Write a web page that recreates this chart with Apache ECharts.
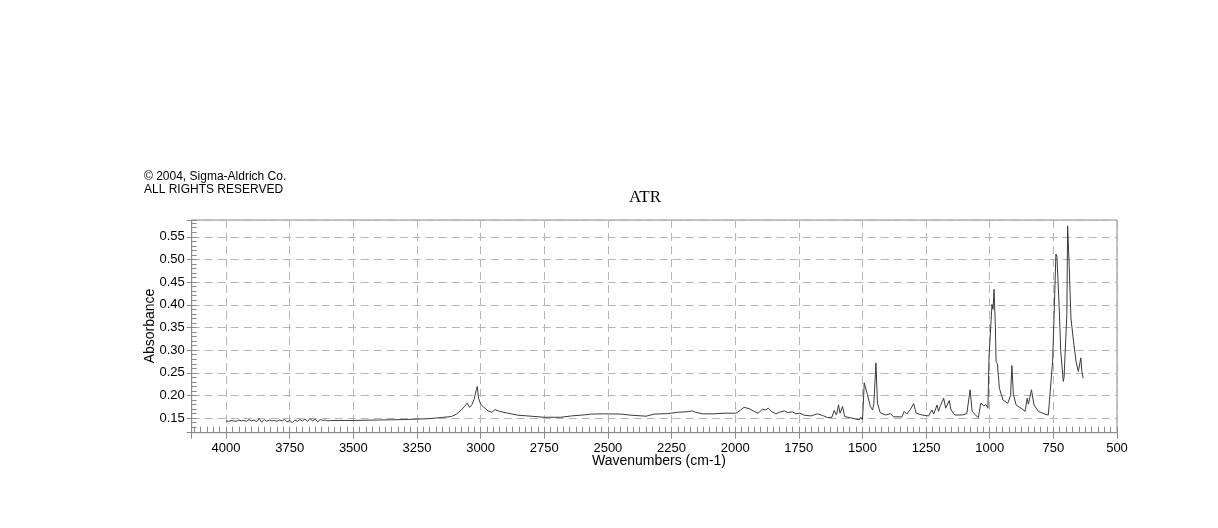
<!DOCTYPE html>
<html>
<head>
<meta charset="utf-8">
<script src="https://cdn.jsdelivr.net/npm/echarts@6/dist/echarts.min.js"></script>
<style>
  html, body { margin: 0; padding: 0; background: #fff; }
  #chart { width: 1218px; height: 528px; }
</style>
</head>
<body>
<div id="chart"></div>
<script>
// spectrum, wavenumber (cm-1) descending
const wavenumbers = [
  4000, 3990, 3980, 3970, 3960, 3950, 3940, 3930, 3920, 3910,
  3900, 3890, 3880, 3870, 3860, 3850, 3840, 3830, 3820, 3810,
  3800, 3790, 3780, 3770, 3760, 3750, 3740, 3730, 3720, 3710,
  3700, 3690, 3680, 3670, 3660, 3650, 3640, 3630, 3620, 3610,
  3600, 3590, 3560, 3500, 3400, 3300, 3250, 3200, 3154, 3115,
  3095, 3076, 3063, 3053, 3043, 3034, 3026, 3021, 3017, 3013,
  3008, 3000, 2991, 2971, 2956, 2943, 2926, 2893, 2854, 2802,
  2750, 2685, 2643, 2591, 2565, 2513, 2448, 2409, 2350, 2318,
  2266, 2227, 2194, 2168, 2155, 2129, 2083, 2044, 2005, 1997,
  1978, 1965, 1945, 1925, 1910, 1893, 1882, 1870, 1857, 1840,
  1827, 1807, 1794, 1775, 1762, 1746, 1729, 1703, 1677, 1657,
  1637, 1620, 1611, 1602, 1594, 1588, 1578, 1570, 1552, 1532,
  1513, 1506, 1500, 1497, 1493, 1482, 1469, 1460, 1455, 1447,
  1441, 1430, 1410, 1390, 1378, 1345, 1336, 1326, 1312, 1299,
  1289, 1266, 1240, 1227, 1220, 1207, 1201, 1195, 1181, 1173,
  1159, 1152, 1137, 1109, 1090, 1077, 1069, 1059, 1045, 1035,
  1023, 1015, 1007, 1003, 991, 987, 983, 978, 975, 970,
  962, 948, 929, 918, 913, 907, 896, 877, 861, 853,
  848, 836, 831, 826, 809, 783, 770, 765, 753, 747,
  740, 736, 727, 721, 711, 708, 697, 694, 688, 681,
  671, 661, 652, 642, 638, 633
];
const absorbance = [
  0.144, 0.143, 0.145, 0.144, 0.143, 0.146, 0.144, 0.145, 0.143, 0.147,
  0.144, 0.146, 0.142, 0.149, 0.141, 0.147, 0.143, 0.146, 0.144, 0.145,
  0.143, 0.146, 0.144, 0.147, 0.142, 0.145, 0.140, 0.146, 0.143, 0.147,
  0.144, 0.148, 0.143, 0.149, 0.144, 0.148, 0.142, 0.147, 0.145, 0.146,
  0.144, 0.145, 0.145, 0.145, 0.146, 0.147, 0.148, 0.149, 0.1515, 0.1537,
  0.159, 0.168, 0.176, 0.183, 0.174, 0.180, 0.1906, 0.194, 0.2127, 0.220,
  0.194, 0.181, 0.176, 0.166, 0.163, 0.169, 0.165, 0.161, 0.1566, 0.1544,
  0.152, 0.152, 0.155, 0.1574, 0.159, 0.1596, 0.159, 0.1566, 0.1544, 0.159,
  0.160, 0.163, 0.164, 0.166, 0.163, 0.1596, 0.1596, 0.161, 0.161, 0.161,
  0.168, 0.174, 0.171, 0.1647, 0.161, 0.170, 0.168, 0.172, 0.1647, 0.1596,
  0.163, 0.166, 0.1625, 0.164, 0.1596, 0.161, 0.1566, 0.155, 0.1596, 0.156,
  0.1515, 0.152, 0.167, 0.157, 0.1795, 0.161, 0.1758, 0.1537, 0.1515, 0.149,
  0.1463, 0.152, 0.1463, 0.176, 0.228, 0.205, 0.176, 0.168, 0.183, 0.272,
  0.183, 0.162, 0.157, 0.160, 0.153, 0.153, 0.165, 0.159, 0.169, 0.182,
  0.161, 0.157, 0.155, 0.168, 0.159, 0.179, 0.165, 0.176, 0.194, 0.172,
  0.189, 0.168, 0.157, 0.157, 0.160, 0.2126, 0.165, 0.159, 0.151, 0.183,
  0.177, 0.180, 0.172, 0.283, 0.401, 0.390, 0.434, 0.356, 0.275, 0.270,
  0.216, 0.190, 0.183, 0.200, 0.266, 0.202, 0.179, 0.172, 0.165, 0.194,
  0.181, 0.2126, 0.215, 0.179, 0.165, 0.159, 0.157, 0.190, 0.275, 0.379,
  0.512, 0.507, 0.393, 0.297, 0.231, 0.240, 0.379, 0.574, 0.489, 0.371,
  0.320, 0.275, 0.253, 0.283, 0.253, 0.238
];

const xMin = 500, xMax = 4135;
const yMin = 0.118, yMax = 0.587;

const gray = '#8a8a8a';
const gridDash = { color: '#b5b5b5', width: 1, type: [8, 5] };

const chart = echarts.init(document.getElementById('chart'));

const option = {
  animation: false,
  grid: {
    left: 191.7, right: 101, top: 220, bottom: 95.3,
    show: true, borderColor: gray, borderWidth: 1, backgroundColor: 'transparent'
  },
  xAxis: [
    {
      type: 'value', inverse: true, min: xMin, max: xMax, interval: 250,
      axisLine: { show: true, lineStyle: { color: gray } },
      axisTick: { show: true, inside: false, length: 6, lineStyle: { color: gray } },
      axisLabel: {
        margin: 9, color: '#000', fontSize: 13, fontFamily: 'Liberation Sans, Arial, sans-serif',
        formatter: v => (v % 250 === 0 ? String(v) : '')
      },
      splitLine: { show: true, lineStyle: gridDash }
    },
    {
      // minor ticks every 25 cm-1
      type: 'value', inverse: true, min: xMin, max: xMax, interval: 25, position: 'bottom',
      axisLine: { show: false },
      axisTick: { show: true, inside: true, length: 6, lineStyle: { color: gray } },
      axisLabel: { show: false },
      splitLine: { show: false }
    }
  ],
  yAxis: [
    {
      type: 'value', min: yMin, max: yMax, splitNumber: 9,
      axisLine: { show: true, lineStyle: { color: gray } },
      axisTick: { show: true, inside: false, length: 5, lineStyle: { color: gray } },
      axisLabel: {
        margin: 7, color: '#000', fontSize: 13, fontFamily: 'Liberation Sans, Arial, sans-serif',
        formatter: v => (Math.abs(v * 20 - Math.round(v * 20)) < 1e-6 ? v.toFixed(2) : '')
      },
      splitLine: { show: true, lineStyle: gridDash }
    },
    {
      // minor ticks every 0.01
      type: 'value', min: yMin, max: yMax, splitNumber: 47, position: 'left',
      axisLine: { show: false },
      axisTick: { show: true, inside: true, length: 5, lineStyle: { color: gray } },
      axisLabel: { show: false },
      splitLine: { show: false }
    }
  ],
  graphic: [
    { type: 'text', left: 144, top: 171,
      style: { text: '\u00a9 2004, Sigma-Aldrich Co.', fill: '#000', font: '12px "Liberation Sans", Arial, sans-serif' } },
    { type: 'text', left: 144, top: 184,
      style: { text: 'ALL RIGHTS RESERVED', fill: '#000', font: '12px "Liberation Sans", Arial, sans-serif' } },
    { type: 'text', x: 645, y: 198,
      style: { text: 'ATR', fill: '#000', font: '17px "Liberation Serif", "Times New Roman", serif',
        textAlign: 'center', textVerticalAlign: 'middle' } },
    { type: 'text', x: 150, y: 326, rotation: Math.PI / 2,
      style: { text: 'Absorbance', fill: '#000', font: '14px "Liberation Sans", Arial, sans-serif',
        textAlign: 'center', textVerticalAlign: 'middle' } },
    { type: 'text', x: 659, y: 461,
      style: { text: 'Wavenumbers (cm-1)', fill: '#000', font: '14px "Liberation Sans", Arial, sans-serif',
        textAlign: 'center', textVerticalAlign: 'middle' } }
  ],
  series: [
    {
      type: 'line',
      xAxisIndex: 0, yAxisIndex: 0,
      showSymbol: false, symbol: 'none',
      lineStyle: { color: '#3a3a3a', width: 1 },
      data: wavenumbers.map((w, i) => [w, absorbance[i]])
    }
  ]
};

chart.setOption(option);
</script>
</body>
</html>
